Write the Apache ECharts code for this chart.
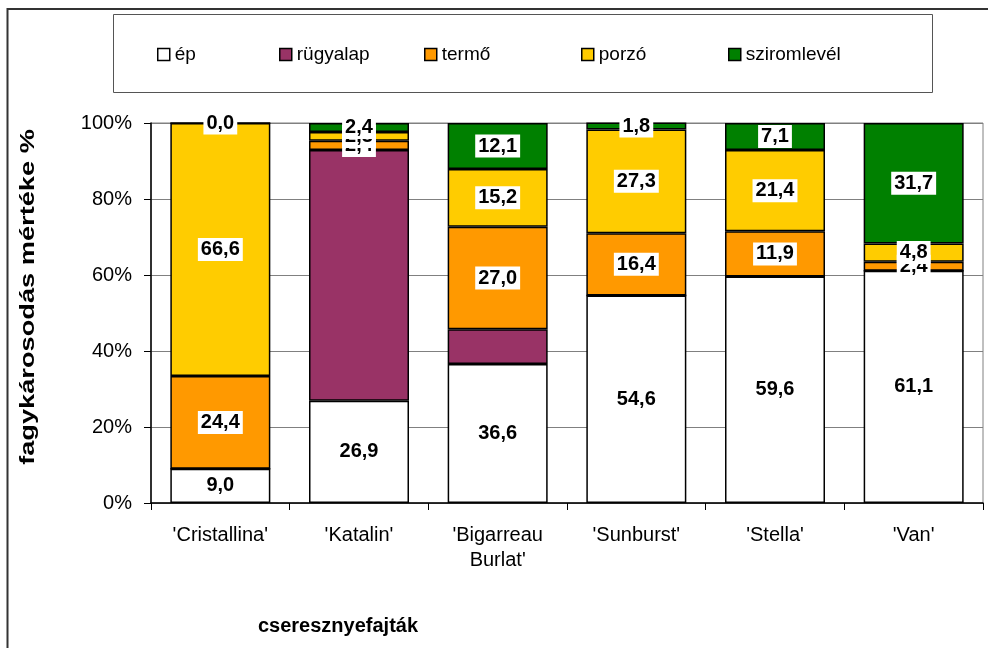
<!DOCTYPE html>
<html>
<head>
<meta charset="utf-8">
<title>Fagykárosodás cseresznyefajtákon</title>
<script src="https://cdn.jsdelivr.net/npm/echarts@6/dist/echarts.min.js"></script>
<style>
  html, body { margin: 0; padding: 0; background: #fff; }
  #chart { width: 988px; height: 648px; }
</style>
</head>
<body>
<div id="chart"></div>
<script>
// Cherry cultivars and the share of each damage type (%)
const categories = ["'Cristallina'", "'Katalin'", "'Bigarreau\nBurlat'", "'Sunburst'", "'Stella'", "'Van'"];
const ep          = [9.0, 26.9, 36.6, 54.6, 59.6, 61.1];
const rugyalap    = [0, 66.0, 9.1, 0, 0, 0];
const termo       = [24.4, 2.4, 27.0, 16.4, 11.9, 2.4];
const porzo       = [66.6, 2.3, 15.2, 27.3, 21.4, 4.8];
const sziromlevel = [0.0, 2.4, 12.1, 1.8, 7.1, 31.7];
const yTicks = [0, 20, 40, 60, 80, 100];

const FONT = "'Liberation Sans', Arial, sans-serif";

const seriesDefs = [
  { name: 'ép',          data: ep,          color: '#FFFFFF', labeled: true },
  { name: 'rügyalap',    data: rugyalap,    color: '#993366', labeled: false },
  { name: 'termő',       data: termo,       color: '#FF9900', labeled: true },
  { name: 'porzó',       data: porzo,       color: '#FFCC00', labeled: true },
  { name: 'sziromlevél', data: sziromlevel, color: '#008000', labeled: true }
];

const legendLefts = [157, 279, 424, 581, 728];

const chart = echarts.init(document.getElementById('chart'), null, { renderer: 'canvas' });

const option = {
  animation: false,
  backgroundColor: '#fff',
  textStyle: { fontFamily: FONT },
  grid: {
    left: 151, right: 5, top: 123, bottom: 145,
    show: true, borderColor: '#808080', borderWidth: 1, backgroundColor: 'transparent'
  },
  legend: seriesDefs.map((s, i) => ({
    data: [s.name],
    left: legendLefts[i],
    top: 45,
    padding: 0,
    itemWidth: 12,
    itemHeight: 12,
    itemGap: 6,
    icon: 'rect',
    itemStyle: { borderColor: '#000', borderWidth: 1.5 },
    textStyle: { fontFamily: FONT, fontSize: 19, color: '#000' },
    selectedMode: false
  })),
  xAxis: {
    type: 'category',
    data: categories,
    axisLine: { lineStyle: { color: '#000', width: 1.5 } },
    axisTick: { show: true, alignWithLabel: false, length: 7, lineStyle: { color: '#000', width: 1 } },
    axisLabel: { color: '#000', fontSize: 20, fontFamily: FONT, margin: 20, lineHeight: 25, interval: 0 }
  },
  yAxis: {
    type: 'value',
    min: yTicks[0],
    max: yTicks[yTicks.length - 1],
    interval: yTicks[1] - yTicks[0],
    axisLine: { show: true, lineStyle: { color: '#000', width: 1.5 } },
    axisTick: { show: true, length: 7, lineStyle: { color: '#000', width: 1 } },
    axisLabel: { color: '#000', fontSize: 20, fontFamily: FONT, margin: 19, formatter: '{value}%' },
    splitLine: { show: true, lineStyle: { color: '#808080', width: 1 } }
  },
  series: seriesDefs.map(s => ({
    name: s.name,
    type: 'bar',
    stack: 'total',
    barWidth: 100,
    data: s.data,
    itemStyle: { color: s.color, borderColor: '#000', borderWidth: 1.5 },
    label: {
      show: s.labeled,
      position: 'inside',
      formatter: p => p.value.toFixed(1).replace('.', ','),
      color: '#000',
      fontFamily: FONT,
      fontSize: 20,
      fontWeight: 'bold',
      backgroundColor: '#fff',
      padding: [2, 3, 1, 3]
    },
    emphasis: { disabled: true }
  })),
  graphic: [
    {
      type: 'rect',
      shape: { x: 7.5, y: 9, width: 1200, height: 1000 },
      style: { fill: 'none', stroke: '#333', lineWidth: 2 },
      silent: true
    },
    {
      type: 'rect',
      shape: { x: 113.5, y: 14.5, width: 819, height: 78 },
      style: { fill: 'none', stroke: '#555', lineWidth: 1 },
      silent: true
    },
    {
      type: 'text',
      x: 28, y: 297,
      rotation: Math.PI / 2,
      scaleX: 1.36,
      style: {
        text: 'fagykárosodás mértéke %',
        font: 'bold 20px ' + FONT,
        fill: '#000',
        align: 'center',
        verticalAlign: 'middle'
      },
      silent: true
    },
    {
      type: 'text',
      x: 338, y: 626,
      style: {
        text: 'cseresznyefajták',
        font: 'bold 20px ' + FONT,
        fill: '#000',
        align: 'center',
        verticalAlign: 'middle'
      },
      silent: true
    }
  ]
};

chart.setOption(option);
</script>
</body>
</html>
